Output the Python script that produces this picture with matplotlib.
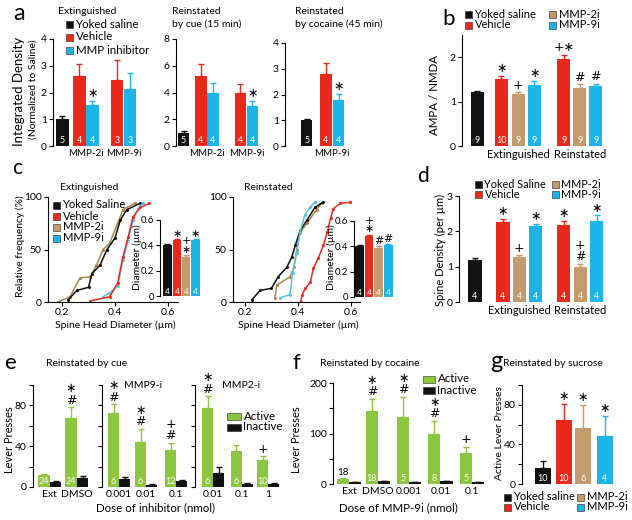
import matplotlib
matplotlib.use('Agg')
import matplotlib.pyplot as plt
from matplotlib.patches import Rectangle

plt.rcParams['font.family'] = ['Lato', 'DejaVu Sans']
plt.rcParams['font.size'] = 7.5
plt.rcParams['axes.linewidth'] = 0.8

BLACK = '#111111'
RED = '#e8291c'
BLUE = '#1db4e8'
TAN = '#c39a6b'
GREEN = '#8cc63e'
BROWN = '#a8854c'
LBLUE = '#56c3e2'

# ---- panel a
a_ext_vals = [1.0, 2.6, 1.52, 2.45, 2.12]
a_ext_errs = [0.12, 0.46, 0.18, 0.75, 0.6]
a_ext_ns = ['5', '4', '4', '3', '3']
a_ext_marks = ['', '', '∗', '', '']
a_cue_vals = [1.0, 5.25, 3.95, 3.95, 3.0]
a_cue_errs = [0.12, 0.85, 0.78, 0.65, 0.38]
a_cue_ns = ['5', '4', '4', '4', '4']
a_cue_marks = ['', '', '', '', '∗']
a_coc_vals = [1.0, 2.8, 1.8]
a_coc_errs = [0.05, 0.42, 0.23]
a_coc_ns = ['5', '4', '4']
a_coc_marks = ['', '', '∗']

# ---- panel b
b_vals = [1.21, 1.51, 1.16, 1.38, 1.95, 1.3, 1.35]
b_errs = [0.03, 0.07, 0.05, 0.08, 0.1, 0.09, 0.05]
b_ns = ['9', '10', '9', '9', '9', '9', '9']
b_marks = ['', '∗', '+', '∗', '+∗', '#', '#']

# ---- panel c (cumulative curves: diameter um, percent)
c_ext = {
    'saline': ([0.223, 0.256, 0.30, 0.313, 0.343, 0.37, 0.40, 0.42, 0.445, 0.495],
               [2, 11, 14, 27, 35, 50, 61, 78, 88, 94]),
    'vehicle': ([0.306, 0.38, 0.41, 0.43, 0.45, 0.468, 0.495, 0.53],
                [1, 5, 18, 43, 62, 81, 90, 94]),
    'mmp2': ([0.185, 0.23, 0.268, 0.306, 0.33, 0.355, 0.38, 0.41, 0.43, 0.475],
             [0, 5, 23, 24, 35, 50, 56, 75, 88, 94]),
    'mmp9': ([0.355, 0.38, 0.41, 0.43, 0.45, 0.468, 0.487, 0.505],
             [5, 9, 15, 40, 59, 78, 89, 94]),
}
c_rein = {
    'saline': ([0.226, 0.257, 0.30, 0.325, 0.358, 0.377, 0.39, 0.408, 0.434, 0.464, 0.494],
               [2, 11, 13, 24, 33, 43, 54, 68, 78, 90, 95]),
    'vehicle': ([0.41, 0.416, 0.428, 0.447, 0.458, 0.477, 0.496, 0.511, 0.523, 0.534, 0.56, 0.598],
                [0, 7, 13, 19, 32, 42, 54, 67, 80, 89, 94, 95]),
    'mmp2': ([0.313, 0.32, 0.37, 0.385, 0.395, 0.408, 0.434, 0.47, 0.49],
             [4, 16, 24, 33, 50, 66, 75, 88, 94]),
    'mmp9': ([0.332, 0.37, 0.38, 0.395, 0.408, 0.426, 0.445, 0.464],
             [4, 7, 28, 47, 67, 83, 90, 95]),
}
c_ext_vals = [0.40, 0.44, 0.31, 0.44]
c_ext_errs = [0.01, 0.008, 0.01, 0.008]
c_ext_marks = ['', '∗', '+\n∗', '∗']
c_rein_vals = [0.40, 0.48, 0.39, 0.41]
c_rein_errs = [0.012, 0.008, 0.01, 0.006]
c_rein_marks = ['', '+\n∗', '#', '#']
c_ns = ['4', '4', '4', '4']

# ---- panel d
d_vals = [1.19, 2.25, 1.27, 2.14, 2.17, 1.0, 2.28]
d_errs = [0.06, 0.11, 0.05, 0.08, 0.13, 0.08, 0.17]
d_ns = ['4'] * 7
d_marks = ['', '∗', '+', '∗', '∗', '+\n#', '∗']

# ---- panel e
e_ctl_labels = ['Ext', 'DMSO']
e_ctl_active = [12, 68]
e_ctl_active_err = [1, 10]
e_ctl_inactive = [5, 9]
e_ctl_inactive_err = [0.8, 2]
e_ctl_ns = ['24', '24']
e_ctl_marks = ['', '∗\n#']
e_m9_labels = ['0.001', '0.01', '0.1']
e_m9_active = [73, 44, 36]
e_m9_active_err = [8, 13, 7]
e_m9_inactive = [8, 2, 6]
e_m9_inactive_err = [2, 0.5, 1]
e_m9_ns = ['6', '6', '12']
e_m9_marks = ['∗\n#', '∗\n#', '+\n#']
e_m2_labels = ['0.01', '0.1', '1']
e_m2_active = [77, 35, 26]
e_m2_active_err = [12, 6, 4]
e_m2_inactive = [14, 3, 3]
e_m2_inactive_err = [6, 0.6, 0.6]
e_m2_ns = ['6', '6', '10']
e_m2_marks = ['∗\n#', '', '+']

# ---- panel f
f_labels = ['Ext', 'DMSO', '0.001', '0.01', '0.1']
f_active = [10, 145, 133, 99, 61]
f_active_err = [2, 23, 39, 26, 12]
f_inactive = [4, 5, 3, 5, 3]
f_inactive_err = [0.8, 1, 1, 1, 0.8]
f_ns = ['18', '18', '5', '8', '5']
f_marks = ['', '∗\n#', '∗\n#', '∗\n#', '+']

# ---- panel g
g_vals = [16, 65, 57, 48]
g_errs = [7, 16, 23, 21]
g_ns = ['10', '10', '6', '4']
g_marks = ['', '∗', '∗', '∗']

W, H = 632, 520
fig = plt.figure(figsize=(W / 100, H / 100), dpi=100)


def px_axes(x0, y0, x1, y1):
    return fig.add_axes([x0 / W, 1 - y1 / H, (x1 - x0) / W, (y1 - y0) / H])


def ftext(x, y, s, **kw):
    kw.setdefault('va', 'center')
    fig.text(x / W, 1 - y / H, s, **kw)


def swatch(x, y, color, label, w=7, h=7, size=8):
    fig.add_artist(Rectangle((x / W, 1 - (y + h / 2) / H), w / W, h / H,
                             facecolor=color, edgecolor='#222222', lw=0.4,
                             transform=fig.transFigure))
    ftext(x + w + 2.5, y, label, ha='left', fontsize=size)


def style(ax, bottom=False):
    ax.spines['top'].set_visible(False)
    ax.spines['right'].set_visible(False)
    ax.spines['bottom'].set_visible(bottom)
    ax.patch.set_alpha(0)
    ax.tick_params(axis='y', direction='out', length=3, width=0.8, pad=1.5, labelsize=7.5)
    if bottom:
        ax.tick_params(axis='x', direction='out', length=3, width=0.8, pad=1.5, labelsize=7.5)
    else:
        ax.tick_params(axis='x', length=0, pad=2, labelsize=7.5)


def bars(ax, pos, vals, errs, colors, ns=None, marks=None, width=0.9,
         msize=9, ncolor='white', nsize=6.5):
    for i, (p, v, e, c) in enumerate(zip(pos, vals, errs, colors)):
        ax.bar(p, v, width, color=c, zorder=2)
        ax.errorbar(p, v, yerr=[[0], [e]], color=c, capsize=2.2, lw=1,
                    capthick=1, zorder=1)
        if ns is not None and ns[i]:
            ax.annotate(ns[i], (p, 0), xytext=(0, 1), textcoords='offset points',
                        ha='center', va='bottom', color=ncolor, fontsize=nsize)
        if marks is not None and marks[i]:
            ax.annotate(marks[i], (p, v + e), xytext=(0, 0.5),
                        textcoords='offset points', ha='center', va='bottom',
                        fontsize=msize, linespacing=0.85, annotation_clip=False,
                        family=['DejaVu Sans'])


# ================= panel a
ftext(19, 13, 'a', fontsize=17, ha='center')
pal5 = [BLACK, RED, BLUE, RED, BLUE]

ax = px_axes(53, 39, 140, 146)
style(ax)
pos = [0, 1.3, 2.3, 4.2, 5.2]
bars(ax, pos, a_ext_vals, a_ext_errs, pal5, a_ext_ns, a_ext_marks, width=0.95)
ax.set_xlim(-0.73, 5.96)
ax.set_ylim(0, 4)
ax.set_yticks([0, 1, 2, 3, 4])
ax.set_xticks([1.8, 4.7])
ax.set_xticklabels(['MMP-2i', 'MMP-9i'], fontsize=7)

ax = px_axes(176, 39, 265, 146)
style(ax)
pos = [0, 1.45, 2.45, 4.75, 5.75]
bars(ax, pos, a_cue_vals, a_cue_errs, pal5, a_cue_ns, a_cue_marks, width=0.95)
ax.set_xlim(-0.63, 6.8)
ax.set_ylim(0, 8)
ax.set_yticks([0, 2, 4, 6, 8])
ax.set_xticks([1.95, 5.25])
ax.set_xticklabels(['MMP-2i', 'MMP-9i'], fontsize=7)

ax = px_axes(285, 43, 350, 146)
style(ax)
pos = [0, 1.6, 2.65]
bars(ax, pos, a_coc_vals, a_coc_errs, [BLACK, RED, BLUE], a_coc_ns, a_coc_marks, width=0.95)
ax.set_xlim(-1.8, 3.6)
ax.set_ylim(0, 4)
ax.set_yticks([0, 1, 2, 3, 4])
ax.set_xticks([2.1])
ax.set_xticklabels(['MMP-9i'], fontsize=7)

ftext(87, 11, 'Extinguished', ha='center', fontsize=7.5)
ftext(172, 12, 'Reinstated', ha='left', fontsize=7.5)
ftext(172, 24, 'by cue (15 min)', ha='left', fontsize=7.5)
ftext(295, 12, 'Reinstated', ha='left', fontsize=7.5)
ftext(295, 24, 'by cocaine (45 min)', ha='left', fontsize=7.5)
ftext(19, 91, 'Integrated Density', rotation=90, ha='center', fontsize=9.5)
ftext(33, 89, '(Normalized to Saline)', rotation=90, ha='center', fontsize=7.5)
swatch(66, 24, BLACK, 'Yoked saline', size=8.3)
swatch(66, 37, RED, 'Vehicle', size=8.3)
swatch(66, 50, BLUE, 'MMP inhibitor', size=8.3)

# ================= panel b
ftext(449, 19, 'b', fontsize=16, ha='center')
ax = px_axes(462, 35, 610, 146)
style(ax)
pos = [0, 1.5, 2.55, 3.55, 5.4, 6.4, 7.4]
bars(ax, pos, b_vals, b_errs, [BLACK, RED, TAN, BLUE, RED, TAN, BLUE],
     b_ns, b_marks, width=0.82)
ax.set_xlim(-0.97, 8.3)
ax.set_ylim(0, 2.5)
ax.set_yticks([0, 1, 2])
ax.set_xticks([2.55, 6.4])
ax.set_xticklabels(['Extinguished', 'Reinstated'], fontsize=8)
ftext(435, 95, 'AMPA / NMDA', rotation=90, ha='center', fontsize=8.3)
swatch(465, 14, BLACK, 'Yoked saline', size=8)
swatch(465, 25, RED, 'Vehicle', size=8)
swatch(549, 14, TAN, 'MMP-2i', size=8)
swatch(549, 25, BLUE, 'MMP-9i', size=8)

# ================= panel c
ftext(17, 168, 'c', fontsize=15, ha='center')
curve_colors = {'saline': BLACK, 'vehicle': RED, 'mmp2': BROWN, 'mmp9': LBLUE}
order = ['mmp2', 'saline', 'mmp9', 'vehicle']
for box, data, lim in [((48, 197, 178, 302), c_ext, (0.147, 0.638)),
                       ((233, 197, 360, 302), c_rein, (0.155, 0.634))]:
    ax = px_axes(*box)
    style(ax, bottom=True)
    for k in order:
        xs, ys = data[k]
        ax.plot(xs, ys, '-o', color=curve_colors[k], lw=1.1, ms=2.2, mew=0)
    ax.set_xlim(*lim)
    ax.set_ylim(0, 100)
    ax.set_xticks([0.2, 0.4, 0.6])
    ax.set_yticks([0, 50, 100])

pal4 = [BLACK, RED, TAN, BLUE]
ax = px_axes(160, 220, 203, 296)
style(ax)
bars(ax, [0, 1, 2, 3], c_ext_vals, c_ext_errs, pal4, c_ns, c_ext_marks,
     width=0.9, msize=8, nsize=6)
ax.set_xlim(-0.8, 3.8)
ax.set_ylim(0, 0.6)
ax.set_yticks([0, 0.2, 0.4, 0.6])
ax.set_yticklabels(['0', '0.2', '0.4', '0.6'], fontsize=7)
ax.tick_params(axis='y', pad=1)
ax.set_xticks([])

ax = px_axes(354, 221, 395, 297)
style(ax)
bars(ax, [0, 1, 2, 3], c_rein_vals, c_rein_errs, pal4, c_ns, c_rein_marks,
     width=0.9, msize=8, nsize=6)
ax.set_xlim(-0.58, 3.7)
ax.set_ylim(0, 0.6)
ax.set_yticks([0, 0.2, 0.4, 0.6])
ax.set_yticklabels(['0', '0.2', '0.4', '0.6'], fontsize=7)
ax.tick_params(axis='y', pad=1)
ax.set_xticks([])

ftext(89, 187, 'Extinguished', ha='center', fontsize=7.5)
ftext(268, 187, 'Reinstated', ha='center', fontsize=7.5)
ftext(20, 246, 'Relative frequency (%)', rotation=90, ha='center', fontsize=7.5)
ftext(137.5, 257, 'Diameter (µm)', rotation=90, ha='center', fontsize=7.5)
ftext(331, 257, 'Diameter (µm)', rotation=90, ha='center', fontsize=7.5)
ftext(115, 325, 'Spine Head Diameter (µm)', ha='center', fontsize=7.5)
ftext(298, 325, 'Spine Head Diameter (µm)', ha='center', fontsize=7.5)
swatch(53, 205, BLACK, 'Yoked Saline', size=8)
swatch(53, 216, RED, 'Vehicle', size=8)
swatch(53, 227, TAN, 'MMP-2i', size=8)
swatch(53, 238, BLUE, 'MMP-9i', size=8)

# ================= panel d
ftext(423, 176, 'd', fontsize=15, ha='center')
ax = px_axes(459, 196, 610, 302)
style(ax)
pos = [0, 1.7, 2.7, 3.7, 5.4, 6.4, 7.4]
bars(ax, pos, d_vals, d_errs, [BLACK, RED, TAN, BLUE, RED, TAN, BLUE],
     d_ns, d_marks, width=0.8)
ax.set_xlim(-0.97, 8.2)
ax.set_ylim(0, 3)
ax.set_yticks([0, 1, 2, 3])
ax.set_xticks([2.7, 6.4])
ax.set_xticklabels(['Extinguished', 'Reinstated'], fontsize=8)
ftext(440, 250, 'Spine Density (per µm)', rotation=90, ha='center', fontsize=8)
swatch(475, 184, BLACK, 'Yoked Saline', size=7.8)
swatch(475, 194, RED, 'Vehicle', size=7.8)
swatch(552, 184, TAN, 'MMP-2i', size=7.8)
swatch(552, 194, BLUE, 'MMP-9i', size=7.8)


def pair_bars(ax, starts, act, act_e, inact, inact_e, ns, marks):
    bars(ax, starts, act, act_e, [GREEN] * len(act), ns, marks, width=1.0)
    bars(ax, [s + 1 for s in starts], inact, inact_e, [BLACK] * len(inact), width=1.0)


def lever_axis(ax, top, major, minor):
    style(ax)
    ax.set_ylim(0, top)
    ax.set_yticks(major)
    ax.set_yticks(minor, minor=True)
    ax.tick_params(axis='y', which='minor', direction='out', length=3, width=0.8)


# ================= panel e
ftext(10, 363, 'e', fontsize=16, ha='center')
ax = px_axes(33, 385, 90, 487)
lever_axis(ax, 100, [0, 40, 80], [20, 60, 100])
st = [0, 2.35]
pair_bars(ax, st, e_ctl_active, e_ctl_active_err, e_ctl_inactive,
          e_ctl_inactive_err, e_ctl_ns, e_ctl_marks)
ax.set_xlim(-0.96, 4.0)
ax.set_xticks([s + 0.5 for s in st])
ax.set_xticklabels(e_ctl_labels)

ax = px_axes(102, 385, 190, 487)
lever_axis(ax, 100, [0, 40, 80], [20, 60, 100])
st = [0, 2.45, 5.2]
pair_bars(ax, st, e_m9_active, e_m9_active_err, e_m9_inactive,
          e_m9_inactive_err, e_m9_ns, e_m9_marks)
ax.set_xlim(-1.05, 6.95)
ax.set_xticks([s + 0.5 for s in st])
ax.set_xticklabels(e_m9_labels)
ax.set_yticklabels([])

ax = px_axes(195, 385, 283, 487)
lever_axis(ax, 100, [0, 40, 80], [20, 60, 100])
st = [0, 2.6, 5.0]
pair_bars(ax, st, e_m2_active, e_m2_active_err, e_m2_inactive,
          e_m2_inactive_err, e_m2_ns, e_m2_marks)
ax.set_xlim(-1.14, 6.86)
ax.set_xticks([s + 0.5 for s in st])
ax.set_xticklabels(e_m2_labels)
ax.set_yticklabels([])

ftext(46, 363, 'Reinstated by cue', ha='left', fontsize=7.5)
ftext(143, 386, 'MMP9-i', ha='center', fontsize=7.5)
ftext(241, 386, 'MMP2-i', ha='center', fontsize=7.5)
ftext(155, 508, 'Dose of inhibitor (nmol)', ha='center', fontsize=8.3)
ftext(9.5, 440, 'Lever Presses', rotation=90, ha='center', fontsize=8)
swatch(227, 416, GREEN, 'Active', w=14, size=8.3)
swatch(227, 427, BLACK, 'Inactive', w=14, size=8.3)

# ================= panel f
ftext(296, 363, 'f', fontsize=16, ha='center')
ax = px_axes(333, 383, 485, 484)
lever_axis(ax, 200, [0, 100, 200], [50, 150])
st = [0, 2.4, 5.0, 7.6, 10.2]
pair_bars(ax, st, f_active, f_active_err, f_inactive, f_inactive_err,
          [''] + f_ns[1:], f_marks)
ax.annotate(f_ns[0], (st[0], f_active[0] + f_active_err[0]), xytext=(0, 1),
            textcoords='offset points', ha='center', va='bottom', fontsize=7)
ax.set_xlim(-0.83, 11.8)
ax.set_xticks([s + 0.5 for s in st])
ax.set_xticklabels(f_labels)
ftext(320, 363, 'Reinstated by cocaine', ha='left', fontsize=7.5)
ftext(398, 508, 'Dose of MMP-9i (nmol)', ha='center', fontsize=8.3)
ftext(297, 440, 'Lever Presses', rotation=90, ha='center', fontsize=8)
swatch(423, 379, GREEN, 'Active', w=12, size=8.3)
swatch(423, 390, BLACK, 'Inactive', w=12, size=8.3)

# ================= panel g
ftext(496, 362, 'g', fontsize=17, ha='center')
ax = px_axes(522, 385, 620, 484)
lever_axis(ax, 100, [0, 40, 80], [20, 60, 100])
bars(ax, [0, 1.05, 2.0, 3.1], g_vals, g_errs, [BLACK, RED, TAN, BLUE],
     g_ns, g_marks, width=0.8)
ax.set_xlim(-1.05, 3.85)
ax.set_xticks([])
ftext(503, 363, 'Reinstated by sucrose', ha='left', fontsize=7.5)
ftext(500, 433, 'Active Lever Presses', rotation=90, ha='center', fontsize=7.5)
swatch(504, 497, BLACK, 'Yoked saline', size=8)
swatch(504, 507, RED, 'Vehicle', size=8)
swatch(577, 497, TAN, 'MMP-2i', size=8)
swatch(577, 507, BLUE, 'MMP-9i', size=8)

fig.savefig('out.png', dpi=100)
